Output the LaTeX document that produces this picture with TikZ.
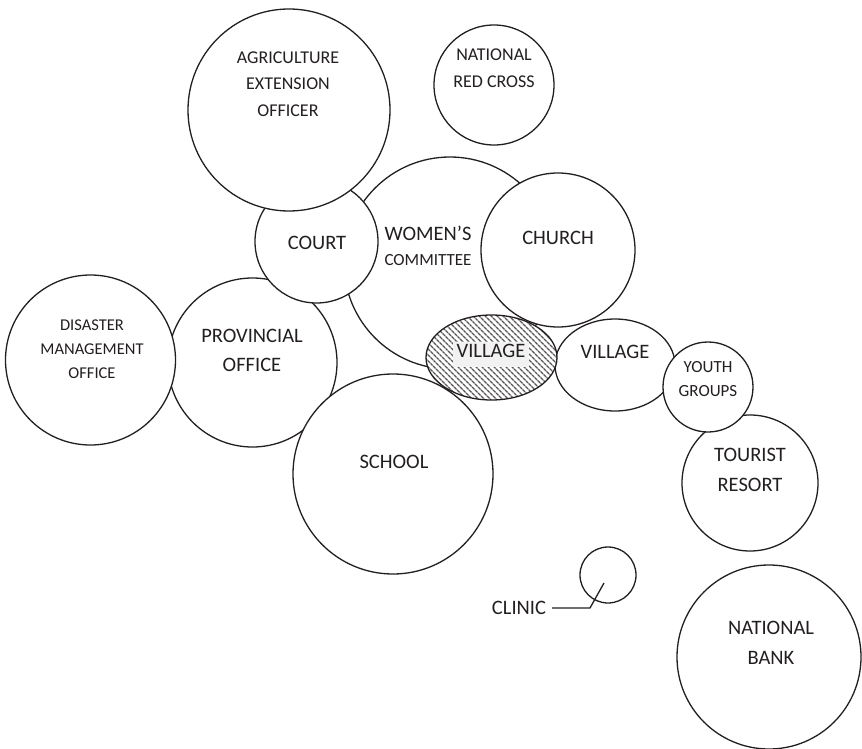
\documentclass[tikz,border=0pt]{standalone}
\usepackage{fontspec}
\setmainfont{Carlito}
\usetikzlibrary{shapes.geometric,patterns.meta}
\definecolor{ink}{HTML}{231F20}
\begin{document}
\begin{tikzpicture}[x=1pt,y=-1pt,
  bub/.style={circle,draw=ink,line width=1.3pt,fill=white,inner sep=0pt},
  oval/.style={ellipse,draw=ink,line width=1.3pt,fill=white,inner sep=0pt},
  lab/.style={text=ink,align=center,inner sep=0pt},
  big/.style={font=\fontsize{20.5}{29}\selectfont},
  mid/.style={font=\fontsize{18}{26.5}\selectfont},
  small/.style={font=\fontsize{16.5}{24}\selectfont},
]
\useasboundingbox (0,0) rectangle (862,749);
% circles, bottom to top
\node[bub,minimum size=169pt] (provincial) at (252.5,362.5) {};
\node[bub,minimum size=170pt] (disaster) at (90.5,360) {};
\node[bub,minimum size=212pt] (women) at (450,263) {};
\node[bub,minimum size=123pt] (court) at (316.5,241.5) {};
\node[bub,minimum size=202pt] (agri) at (289,110) {};
\node[bub,minimum size=154pt] (church) at (558,250) {};
\node[bub,minimum size=200pt] (school) at (393,474) {};
\node[bub,minimum size=136pt] (tourist) at (750,483) {};
\node[oval,minimum width=120pt,minimum height=92pt] (village) at (615,365) {};
\node[bub,minimum size=90pt] (youth) at (708,387) {};
\node[ellipse,draw=ink,line width=1.3pt,inner sep=0pt,
      preaction={fill=white},
      pattern={Lines[angle=-45,distance=4pt,line width=1.4pt]},pattern color=ink!75,
      minimum width=131pt,minimum height=85pt] (hvillage) at (491.5,357.5) {};
\node[bub,minimum size=120pt] (redcross) at (494,85) {};
\node[bub,minimum size=184pt] (bank) at (769,657) {};
\node[bub,minimum size=56pt] (clinic) at (608,575) {};
% labels
\node[lab,mid] (agrilab) at (288,84) {AGRICULTURE\\EXTENSION\\OFFICER};
\node[lab,mid,font=\fontsize{18}{27}\selectfont] (redlab) at (494,68.5) {NATIONAL\\RED CROSS};
\node[lab,big] (courtlab) at (317,243) {COURT};
\node[lab,big] (womenlab) at (428,233) {WOMEN’S};
\node[lab,font=\fontsize{17}{24}\selectfont] (commlab) at (428,260) {COMMITTEE};
\node[lab,big] (churchlab) at (558,238) {CHURCH};
\node[lab,small] (dislab) at (92,349.5) {DISASTER\\MANAGEMENT\\OFFICE};
\node[lab,big] (provlab) at (252,350.5) {PROVINCIAL\\OFFICE};
\node[lab,big] (schoollab) at (394,462) {SCHOOL};
\node[text=ink,big,fill=ink!6,inner xsep=4pt,inner ysep=2pt,text depth=7.5pt] (hvlab) at (491,354.5) {VILLAGE};
\node[lab,big] (villab) at (615,352) {VILLAGE};
\node[lab,font=\fontsize{17}{24}\selectfont] (youthlab) at (708,379) {YOUTH\\GROUPS};
\node[lab,big,font=\fontsize{20.5}{30}\selectfont] (tourlab) at (750,470) {TOURIST\\RESORT};
\node[lab,big,font=\fontsize{20.5}{30}\selectfont] (banklab) at (771,643) {NATIONAL\\BANK};
\node[lab,big] (cliniclab) at (519,608) {CLINIC};
% clinic leader
\coordinate (clinicbend) at (590,608);
\coordinate (clinictip) at (604,583);
\draw[ink,line width=1.3pt] ([xshift=6pt]cliniclab.east) -- (clinicbend) -- (clinictip);
\end{tikzpicture}
\end{document}
